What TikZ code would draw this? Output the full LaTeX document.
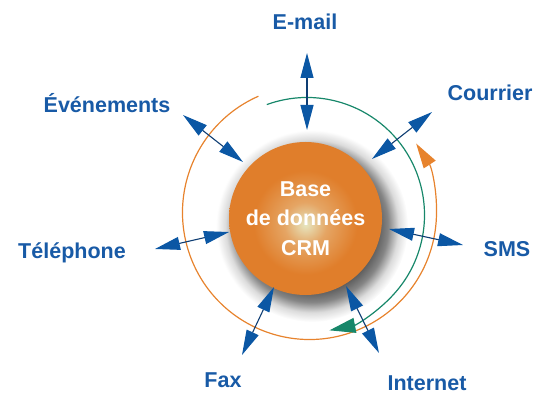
\documentclass[tikz,border=0pt]{standalone}
\usepackage{fontspec}
\setmainfont{Liberation Sans}
\usetikzlibrary{arrows.meta}
\definecolor{txtblue}{HTML}{185AA6}
\definecolor{tipblue}{HTML}{0B57A4}
\definecolor{navyline}{HTML}{0E3D73}
\definecolor{ringorange}{HTML}{E7832D}
\definecolor{ringgreen}{HTML}{17876A}
\definecolor{crmorange}{HTML}{E07E2B}
\definecolor{crmmid}{HTML}{E5A564}
\definecolor{crmlight}{HTML}{E6E6C0}
\definecolor{shA}{gray}{0.30}
\definecolor{shB}{gray}{0.30}
\definecolor{shC}{gray}{0.52}
\definecolor{shD}{gray}{0.86}
\pgfdeclareradialshading{crmshade}{\pgfpoint{0bp}{-2bp}}{color(0bp)=(crmlight); color(7bp)=(crmmid); color(17bp)=(crmorange); color(50bp)=(crmorange)}
\pgfdeclareradialshading{shadowshade}{\pgfpoint{0bp}{0bp}}{color(0bp)=(shA); color(16bp)=(shB); color(19.8bp)=(shC); color(22.5bp)=(shD); color(25bp)=(white); color(50bp)=(white)}
\tikzset{
  lbl/.style={text=txtblue, font=\fontsize{21.5}{26}\selectfont\bfseries, inner sep=0pt, anchor=center},
  arr/.style={draw=navyline, line width=1.1pt,
    {Triangle[length=25pt,width=13pt,color=tipblue]}-{Triangle[length=25pt,width=13pt,color=tipblue]}},
  ring/.style={line width=1.2pt},
}
\begin{document}
\begin{tikzpicture}[x=1pt,y=1pt]
\useasboundingbox (0,0) rectangle (537,394);
% shadow
\shade[shading=shadowshade] (312,168) circle[radius=96];
% rings
\coordinate (oc) at (309.5,181.5);
\coordinate (gc) at (307,179);
\draw[ring, ringorange, -{Triangle[length=25pt,width=14pt]}] (oc) ++(113.7:127) arc[start angle=113.7, end angle=392.9, radius=127];
\draw[ring, ringgreen, -{Triangle[length=26pt,width=15pt]}] (gc) ++(110:117.5) arc[start angle=110, end angle=-79, radius=117.5];
% central database
\node[circle, minimum size=153pt, inner sep=0pt, shading=crmshade, align=center,
  text=white, font=\fontsize{21.5}{29.5}\selectfont\bfseries] (crm) at (305.5,175.5)
  {Base\\de données\\CRM};
% labels
\node[lbl] (email) at (305,372) {E-mail};
\node[lbl] (even) at (107,291) {Événements};
\node[lbl] (courrier) at (490,301) {Courrier};
\node[lbl] (tel) at (72,141) {Téléphone};
\node[lbl] (fax) at (223,14) {Fax};
\node[lbl] (internet) at (427,11) {Internet};
\node[lbl] (sms) at (507,145) {SMS};
% arrow ends
\coordinate (e1) at (307,341); \coordinate (e2) at (307,264);
\coordinate (v1) at (183,279); \coordinate (v2) at (243,232);
\coordinate (c1) at (432,282); \coordinate (c2) at (372,235);
\coordinate (t1) at (155,145); \coordinate (t2) at (229,162);
\coordinate (f1) at (274,107); \coordinate (f2) at (242,39);
\coordinate (i1) at (346,108); \coordinate (i2) at (379,41);
\coordinate (s1) at (389,165); \coordinate (s2) at (463,149);
\draw[arr] (e1) -- (e2);
\draw[arr] (v1) -- (v2);
\draw[arr] (c1) -- (c2);
\draw[arr] (t1) -- (t2);
\draw[arr] (f1) -- (f2);
\draw[arr] (i1) -- (i2);
\draw[arr] (s1) -- (s2);
\end{tikzpicture}
\end{document}
